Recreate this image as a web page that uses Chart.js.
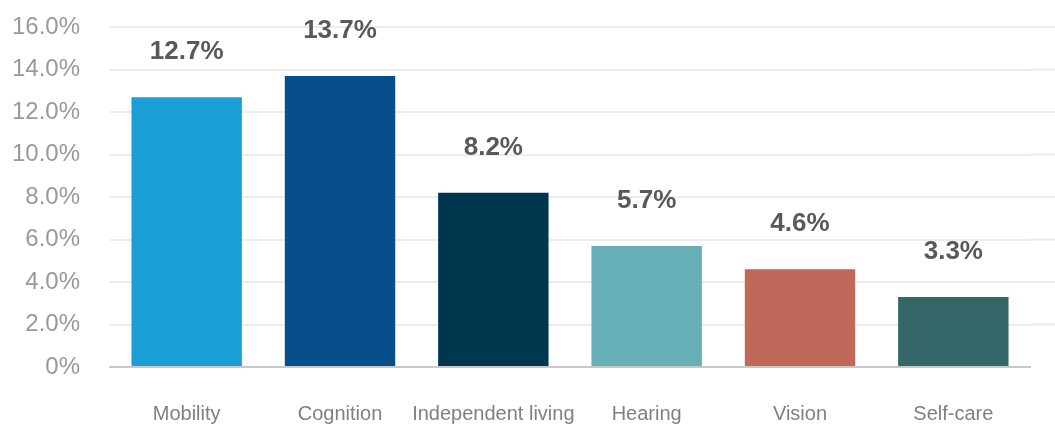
<!DOCTYPE html>
<html>
<head>
<meta charset="utf-8">
<script src="https://cdn.jsdelivr.net/npm/chart.js@4/dist/chart.umd.min.js"></script>
<style>
  body { margin: 0; background: #fff; }
</style>
</head>
<body>
<canvas id="myChart" width="1055" height="424"></canvas>
<script>
const categories = ["Mobility", "Cognition", "Independent living", "Hearing", "Vision", "Self-care"];
const values = [12.7, 13.7, 8.2, 5.7, 4.6, 3.3];
const barColors = ["#199fd6", "#064f8a", "#003750", "#66afb6", "#c0695a", "#356668"];

// labels on top of the bars
const valueLabels = {
  id: 'valueLabels',
  afterDatasetsDraw(chart) {
    const ctx = chart.ctx;
    const meta = chart.getDatasetMeta(0);
    ctx.save();
    ctx.font = 'bold 26px "Liberation Sans", Arial, sans-serif';
    ctx.fillStyle = '#595959';
    ctx.textAlign = 'center';
    ctx.textBaseline = 'middle';
    meta.data.forEach((bar, i) => {
      ctx.fillText(values[i].toFixed(1) + '%', bar.x, bar.y - 45);
    });
    ctx.restore();
  }
};

// gridlines run on to the right edge of the picture
const longGrid = {
  id: 'longGrid',
  beforeDatasetsDraw(chart) {
    const ctx = chart.ctx;
    const y = chart.scales.y;
    ctx.save();
    ctx.strokeStyle = '#ececec';
    ctx.lineWidth = 2;
    y.ticks.forEach(t => {
      if (t.value === 0) return;
      const py = y.getPixelForValue(t.value);
      ctx.beginPath();
      ctx.moveTo(chart.chartArea.right, py);
      ctx.lineTo(chart.width, py);
      ctx.stroke();
    });
    ctx.restore();
  }
};

new Chart("myChart", {
  type: "bar",
  data: {
    labels: categories,
    datasets: [{
      data: values,
      backgroundColor: barColors,
      borderWidth: 0,
      barPercentage: 0.72,
      categoryPercentage: 1
    }]
  },
  plugins: [longGrid, valueLabels],
  options: {
    responsive: false,
    animation: false,
    layout: {
      padding: { top: 27, right: 25, left: 0, bottom: 0 }
    },
    plugins: {
      legend: { display: false },
      tooltip: { enabled: false }
    },
    scales: {
      x: {
        afterFit: s => { s.height = 57; s.paddingLeft = 0; s.paddingRight = 0; },
        grid: { display: false, drawTicks: false },
        border: { color: '#c8c8c8', width: 2 },
        ticks: {
          color: '#808080',
          padding: 35,
          maxRotation: 0,
          autoSkip: false,
          font: { family: '"Liberation Sans", Arial, sans-serif', size: 20 }
        }
      },
      y: {
        min: 0,
        max: 16,
        afterFit: s => { s.width = 110; s.paddingTop = 0; s.paddingBottom = 0; },
        grid: { color: '#ececec', lineWidth: 2, drawTicks: false },
        border: { display: false },
        ticks: {
          stepSize: 2,
          color: '#999999',
          padding: 30,
          font: { family: '"Liberation Sans", Arial, sans-serif', size: 24 },
          callback: function(value) {
            if (value === 0) {
              return '0%';
            }
            return value.toFixed(1) + '%';
          }
        }
      }
    }
  }
});
</script>
</body>
</html>
